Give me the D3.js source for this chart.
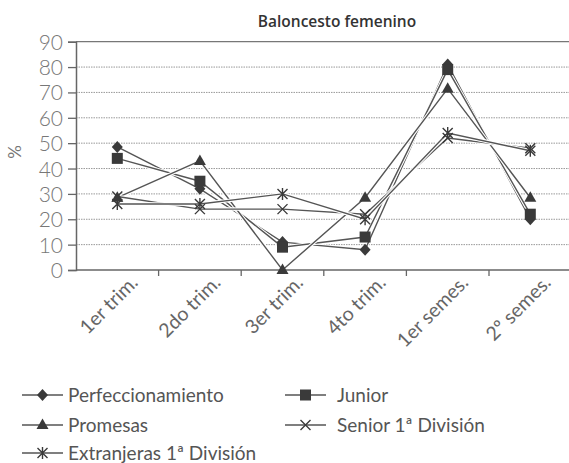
<!DOCTYPE html>
<html><head><meta charset="utf-8">
<script src="https://cdn.jsdelivr.net/npm/d3@7"></script>
<style>body{margin:0;background:#fff}svg{display:block}text{font-family:Lato,"Open Sans",sans-serif}</style>
</head><body><svg id="c" width="569" height="463"></svg>
<script>
const categories = ["1er trim.","2do trim.","3er trim.","4to trim.","1er semes.","2º semes."];
const perfeccionamiento = [48.5, 32, 11, 8, 81, 20];
const junior = [44, 35, 9, 13, 79, 22];
const promesas = [28.5, 43, 0, 28.5, 71.5, 28.5];
const senior = [29, 24, 24, 22, 52, 48];
const extranjeras = [26, 26, 30, 20, 54, 47];
const seriesNames = ["Perfeccionamiento","Junior","Promesas","Senior 1ª División","Extranjeras 1ª División"];
const yTicks = [0,10,20,30,40,50,60,70,80,90];

const series = [
  {name: seriesNames[0], values: perfeccionamiento, marker: "diamond"},
  {name: seriesNames[1], values: junior, marker: "square"},
  {name: seriesNames[2], values: promesas, marker: "triangle"},
  {name: seriesNames[3], values: senior, marker: "x"},
  {name: seriesNames[4], values: extranjeras, marker: "asterisk"}
];

const svg = d3.select("#c");
const mLeft = 76, mRight = 571.6, mTop = 41.7, mBottom = 270;
const x = d3.scaleBand().domain(categories).range([mLeft, mRight]);
const y = d3.scaleLinear().domain([0, 90]).range([mBottom, mTop]);
const cx = c => x(c) + x.bandwidth() / 2;

// gridlines
svg.append("g").selectAll("line").data(yTicks.filter(t => t > 0 && t < 90)).join("line")
  .attr("x1", mLeft).attr("x2", 569).attr("y1", d => y(d)).attr("y2", d => y(d))
  .attr("stroke", "#999").attr("stroke-width", 1).attr("stroke-dasharray", "1.5,1");
// top border
svg.append("line").attr("x1", mLeft).attr("x2", 569).attr("y1", y(90)).attr("y2", y(90))
  .attr("stroke", "#777").attr("stroke-width", 1.3);

// y axis
const yAxis = svg.append("g").attr("transform", `translate(${mLeft},0)`)
  .call(d3.axisLeft(y).tickValues(yTicks).tickSize(8).tickPadding(5));
yAxis.select(".domain").attr("stroke", "#666").attr("stroke-width", 1.5);
yAxis.selectAll(".tick line").attr("stroke", "#666").attr("stroke-width", 1.3);
yAxis.selectAll(".tick text").attr("font-size", 21).attr("fill", "#777").attr("font-weight", 300)
  .style("font-family", "Lato").attr("dy", "0.36em");

// x axis
const xAxis = svg.append("g").attr("transform", `translate(0,${mBottom})`)
  .call(d3.axisBottom(x).tickSize(0).tickPadding(0));
xAxis.select(".domain").remove();
svg.append("line").attr("x1", mLeft).attr("x2", 569).attr("y1", mBottom).attr("y2", mBottom)
  .attr("stroke", "#666").attr("stroke-width", 1.5);
svg.append("g").selectAll("line").data(categories.slice(1)).join("line")
  .attr("x1", d => x(d)).attr("x2", d => x(d)).attr("y1", mBottom).attr("y2", mBottom + 6)
  .attr("stroke", "#666").attr("stroke-width", 1.3);
xAxis.selectAll(".tick text")
  .attr("font-size", 19.5).attr("fill", "#666")
  .attr("text-anchor", "end")
  .attr("transform", "translate(17,9) rotate(-45)")
  .attr("dy", "0.35em").attr("y", 0).attr("x", 0);

// title
svg.append("text").attr("x", 337).attr("y", 27).attr("text-anchor", "middle")
  .style("font-family", "'Open Sans'").attr("font-size", 15.5).attr("fill", "#333").attr("font-weight", 600)
  .text("Baloncesto femenino");
// y label
svg.append("text").attr("transform", "translate(21,152) rotate(-90)").attr("text-anchor", "middle")
  .attr("font-size", 17).attr("fill", "#777").text("%");

function drawMarker(g, type, px, py) {
  const c = "#3a3a3a";
  if (type === "diamond") {
    g.append("path").attr("d", `M${px},${py-6}L${px+5.5},${py}L${px},${py+6}L${px-5.5},${py}Z`).attr("fill", c);
  } else if (type === "square") {
    g.append("rect").attr("x", px-5.5).attr("y", py-5.5).attr("width", 11).attr("height", 11).attr("fill", c);
  } else if (type === "triangle") {
    g.append("path").attr("d", `M${px},${py-6.5}L${px+6},${py+4}L${px-6},${py+4}Z`).attr("fill", c);
  } else if (type === "x") {
    g.append("path").attr("d", `M${px-5},${py-5}L${px+5},${py+5}M${px-5},${py+5}L${px+5},${py-5}`)
      .attr("stroke", c).attr("stroke-width", 1.4);
  } else if (type === "asterisk") {
    g.append("path").attr("d", `M${px-5},${py-5}L${px+5},${py+5}M${px-5},${py+5}L${px+5},${py-5}M${px},${py-6}L${px},${py+6}`)
      .attr("stroke", c).attr("stroke-width", 1.4);
  }
}

const line = d3.line().x((d, i) => cx(categories[i])).y(d => y(d));
const gl = svg.append("g");
series.forEach(s => {
  gl.append("path").attr("d", line(s.values)).attr("fill", "none").attr("stroke", "#fff").attr("stroke-width", 3.5);
  gl.append("path").attr("d", line(s.values)).attr("fill", "none").attr("stroke", "#555").attr("stroke-width", 1.4);
});
series.forEach(s => {
  const g = svg.append("g");
  s.values.forEach((v, i) => drawMarker(g, s.marker, cx(categories[i]), y(v)));
});

// legend
const legendPos = [[22, 395], [285, 395], [22, 425], [285, 425], [22, 453]];
series.forEach((s, k) => {
  const [lx, ly] = legendPos[k];
  const g = svg.append("g");
  g.append("line").attr("x1", lx).attr("x2", lx + 41).attr("y1", ly).attr("y2", ly).attr("stroke", "#555").attr("stroke-width", 1.4);
  drawMarker(g, s.marker, lx + 20.5, ly);
  g.append("text").attr("x", lx + (lx > 100 ? 52 : 46)).attr("y", ly).attr("dy", "0.35em")
    .attr("font-size", 19).attr("fill", "#555").text(s.name);
});
</script></body></html>
